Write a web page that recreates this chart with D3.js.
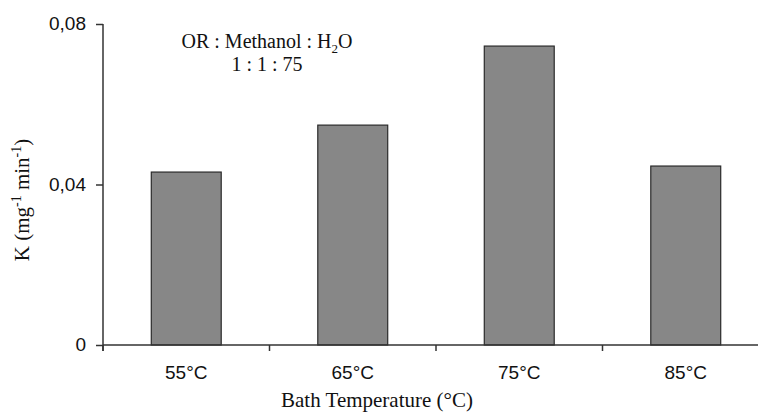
<!DOCTYPE html>
<html>
<head>
<meta charset="utf-8">
<script src="https://cdn.jsdelivr.net/npm/d3@7"></script>
<style>
  body { margin: 0; background: #fff; }
  .sans { font-family: Arial, "Liberation Sans", Helvetica, sans-serif; fill: #111; }
  .serif { font-family: "Liberation Serif", "Times New Roman", serif; fill: #111; }
</style>
</head>
<body>
<svg id="chart" width="758" height="414"></svg>
<script>
var categories = ['55°C', '65°C', '75°C', '85°C'];
var kValues = [0.0431, 0.0548, 0.0745, 0.0446];
var yTicks = [0, 0.04, 0.08];

var svg = d3.select('#chart');
var margin = { left: 103, top: 24, right: 0 };
var plotBottom = 345;

var x = d3.scaleBand()
  .domain(categories)
  .range([margin.left, margin.left + 4 * 166.5])
  .paddingInner(0.58)
  .paddingOuter(0.29);

var y = d3.scaleLinear()
  .domain([0, 0.08])
  .range([plotBottom, margin.top]);

var fmt = function(d) { return d === 0 ? '0' : d3.format('.2f')(d).replace('.', ','); };

// bars
svg.append('g').selectAll('rect').data(kValues).enter().append('rect')
  .attr('x', function(d, i) { return x(categories[i]); })
  .attr('width', x.bandwidth())
  .attr('y', function(d) { return y(d); })
  .attr('height', function(d) { return plotBottom - y(d); })
  .attr('fill', '#878787')
  .attr('stroke', '#2a2a2a')
  .attr('stroke-width', 1.2);

// y axis
var yAxis = svg.append('g')
  .attr('transform', 'translate(' + margin.left + ',0)')
  .call(d3.axisLeft(y).tickValues(yTicks).tickFormat(fmt).tickSize(7).tickSizeOuter(0));
yAxis.select('.domain').attr('stroke', '#333').attr('stroke-width', 1.5)
  .attr('d', 'M0,' + y(0.08) + 'V' + (plotBottom + 6));
yAxis.selectAll('.tick line').attr('stroke', '#333').attr('stroke-width', 1.5);
yAxis.selectAll('.tick text').attr('class', 'sans')
  .style('font-size', '19px').attr('x', -17).attr('dy', '0.3em');

// x axis with ticks at category boundaries
var xAxis = svg.append('g')
  .attr('transform', 'translate(0,' + plotBottom + ')');
var step = x.step();
var bounds = d3.range(categories.length + 1).map(function(i) { return margin.left + i * step; });
xAxis.append('path')
  .attr('d', 'M' + margin.left + ',0H758')
  .attr('stroke', '#333').attr('stroke-width', 1.5).attr('fill', 'none');
xAxis.selectAll('line.b').data(bounds).enter().append('line')
  .attr('class', 'b')
  .attr('x1', function(d) { return d; }).attr('x2', function(d) { return d; })
  .attr('y1', 0).attr('y2', 6)
  .attr('stroke', '#333').attr('stroke-width', 1.5);
xAxis.selectAll('text').data(categories).enter().append('text')
  .attr('class', 'sans')
  .attr('x', function(d) { return x(d) + x.bandwidth() / 2; })
  .attr('y', 34)
  .attr('text-anchor', 'middle')
  .style('font-size', '19px')
  .text(function(d) { return d; });

// axis titles
svg.append('text').attr('class', 'serif')
  .attr('x', 377).attr('y', 407)
  .attr('text-anchor', 'middle').style('font-size', '21px')
  .text('Bath Temperature (°C)');

var yt = svg.append('text').attr('class', 'serif')
  .attr('transform', 'translate(29,200) rotate(-90)')
  .attr('text-anchor', 'middle').style('font-size', '21px');
yt.append('tspan').text('K (mg');
yt.append('tspan').attr('dy', -8).style('font-size', '14px').text('-1');
yt.append('tspan').attr('dy', 8).text(' min');
yt.append('tspan').attr('dy', -8).style('font-size', '14px').text('-1');
yt.append('tspan').attr('dy', 8).text(')');

// annotation
var a1 = svg.append('text').attr('class', 'serif')
  .attr('x', 267).attr('y', 48).attr('text-anchor', 'middle').style('font-size', '20px');
a1.append('tspan').text('OR : Methanol : H');
a1.append('tspan').attr('dy', 5).style('font-size', '13px').text('2');
a1.append('tspan').attr('dy', -5).text('O');
svg.append('text').attr('class', 'serif')
  .attr('x', 267).attr('y', 71).attr('text-anchor', 'middle').style('font-size', '20px')
  .text('1 : 1 : 75');
</script>
</body>
</html>
